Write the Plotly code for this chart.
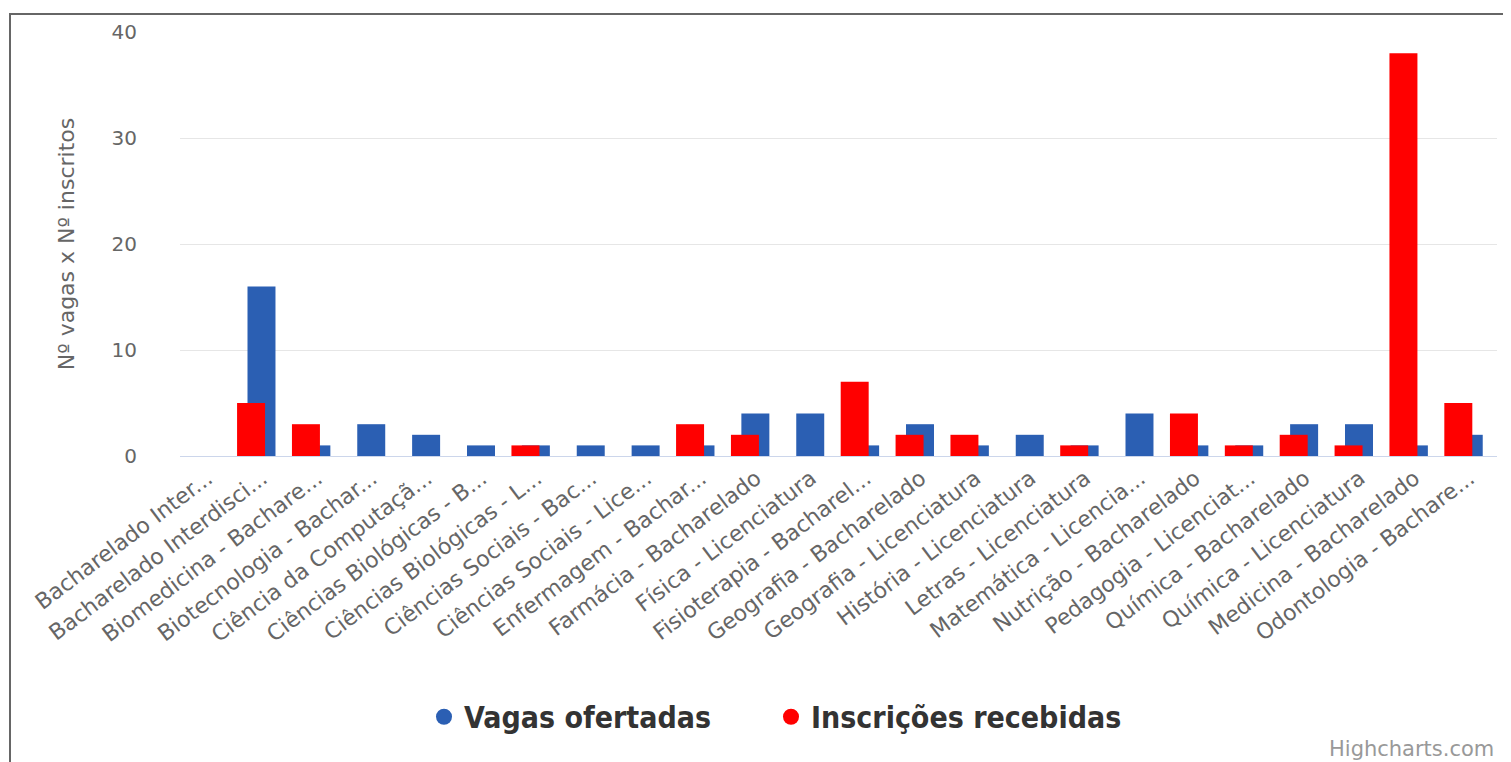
import plotly.graph_objects as go

categories = [
    "Bacharelado Inter...",
    "Bacharelado Interdisci...",
    "Biomedicina - Bachare...",
    "Biotecnologia - Bachar...",
    "Ciência da Computaçã...",
    "Ciências Biológicas - B...",
    "Ciências Biológicas - L...",
    "Ciências Sociais - Bac...",
    "Ciências Sociais - Lice...",
    "Enfermagem - Bachar...",
    "Farmácia - Bacharelado",
    "Física - Licenciatura",
    "Fisioterapia - Bacharel...",
    "Geografia - Bacharelado",
    "Geografia - Licenciatura",
    "História - Licenciatura",
    "Letras - Licenciatura",
    "Matemática - Licencia...",
    "Nutrição - Bacharelado",
    "Pedagogia - Licenciat...",
    "Química - Bacharelado",
    "Química - Licenciatura",
    "Medicina - Bacharelado",
    "Odontologia - Bachare...",
]
vagas_ofertadas = [0, 16, 1, 3, 2, 1, 1, 1, 1, 1, 4, 4, 1, 3, 1, 2, 1, 4, 1, 1, 3, 3, 1, 2]
inscricoes_recebidas = [0, 5, 3, 0, 0, 0, 1, 0, 0, 3, 2, 0, 7, 2, 2, 0, 1, 0, 4, 1, 2, 1, 38, 5]
y_ticks = [0, 10, 20, 30, 40]

BLUE = "#2b5fb3"
RED = "#ff0000"

# page is offset by the browser's default 8px body margin
OFF = 8
W, H = 1511 - OFF, 762 - OFF
PLOT_L, PLOT_R, PLOT_T, PLOT_B = 180, 1497, 30, 456  # in page pixels
L = PLOT_L - OFF
R = W - (PLOT_R - OFF)
T = PLOT_T - OFF
B = H - (PLOT_B - OFF)
PW = PLOT_R - PLOT_L
PH = PLOT_B - PLOT_T


def px_x(p):
    return (p - PLOT_L) / PW


def px_y(p):
    return (PLOT_B - p) / PH


fig = go.Figure()
fig.add_trace(go.Bar(
    x=categories, y=vagas_ofertadas, name="Vagas ofertadas",
    marker=dict(color=BLUE, line=dict(width=0)),
    offset=-0.27, width=0.51, showlegend=False,
))
fig.add_trace(go.Bar(
    x=categories, y=inscricoes_recebidas, name="Inscrições recebidas",
    marker=dict(color=RED, line=dict(width=0)),
    offset=-0.46, width=0.51, showlegend=False,
))
# legend entries with round symbols
fig.add_trace(go.Scatter(
    x=[None], y=[None], mode="markers", name="Vagas ofertadas",
    marker=dict(color=BLUE, size=19, symbol="circle"), legend="legend",
))
fig.add_trace(go.Scatter(
    x=[None], y=[None], mode="markers", name="Inscrições recebidas",
    marker=dict(color=RED, size=19, symbol="circle"), legend="legend2",
))

legend_font = dict(family="Liberation Sans Narrow, DejaVu Sans Condensed, Roboto, sans-serif",
                   size=30, color="#333333", weight="bold")

fig.update_layout(
    width=W, height=H, autosize=False,
    margin=dict(l=L, r=R, t=T, b=B, pad=0),
    paper_bgcolor="white", plot_bgcolor="white",
    barmode="overlay",
    font=dict(family="DejaVu Sans, Open Sans, sans-serif", color="#666666"),
    xaxis=dict(
        type="category", categoryorder="array", categoryarray=categories,
        range=[-0.5, len(categories) - 0.5],
        tickangle=-37, tickfont=dict(size=22, color="#666666"),
        showgrid=False, showline=True, linecolor="#ccd6eb", linewidth=1,
        ticks="", zeroline=False,
    ),
    yaxis=dict(
        range=[0, 40], tickvals=y_ticks, ticktext=[str(v) for v in y_ticks],
        gridcolor="#e6e6e6", gridwidth=1, zeroline=False, showline=False,
        tickfont=dict(size=20, color="#666666"),
        ticklabelstandoff=42,
        title=dict(text="Nº vagas x Nº inscritos", font=dict(size=22, color="#666666"), standoff=30),
    ),
    legend=dict(
        orientation="h", x=px_x(424), xanchor="left", y=px_y(718), yanchor="middle",
        font=legend_font, bgcolor="rgba(0,0,0,0)",
    ),
    legend2=dict(
        orientation="h", x=px_x(771), xanchor="left", y=px_y(718), yanchor="middle",
        font=legend_font, bgcolor="rgba(0,0,0,0)",
    ),
    shapes=[dict(
        type="rect", xref="paper", yref="paper",
        x0=px_x(10), x1=px_x(1530), y0=px_y(790), y1=px_y(12),
        line=dict(color="#666666", width=2), fillcolor="rgba(0,0,0,0)", layer="below",
    )],
    annotations=[dict(
        text="Highcharts.com", xref="paper", yref="paper",
        x=px_x(1496), y=px_y(750), xanchor="right", yanchor="middle",
        showarrow=False, font=dict(size=21, color="#999999"),
    )],
)

fig.write_html("out.html")
